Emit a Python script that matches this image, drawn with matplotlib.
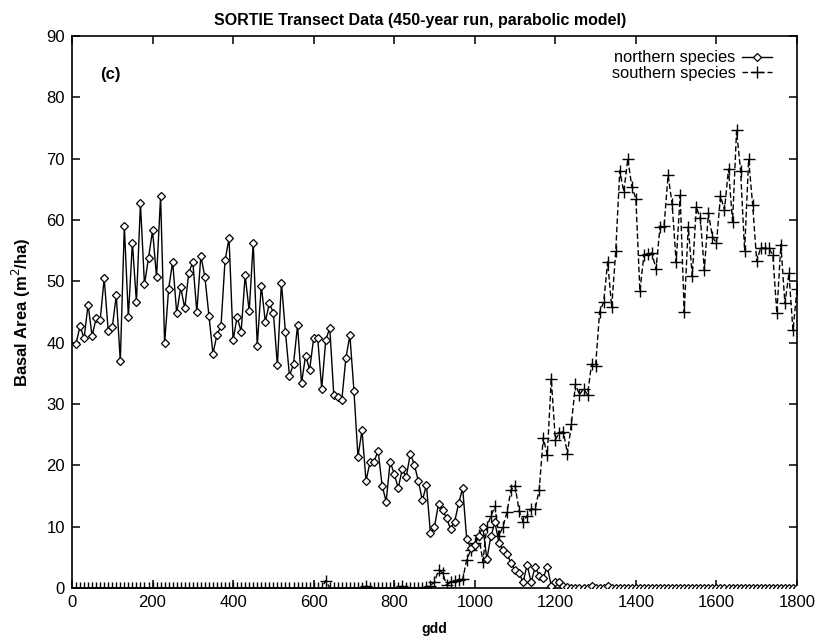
import matplotlib
matplotlib.use("Agg")
import matplotlib.pyplot as plt

plt.rcParams["font.family"] = ["Liberation Sans", "DejaVu Sans"]

# ---------------------------------------------------
# DATA (one value per 10 gdd)
# ---------------------------------------------------
gdd = list(range(10, 1801, 10))

northern = [
    39.8, 42.7, 40.7, 46.2, 41.1, 44.0, 43.7, 50.5, 41.9, 42.5,   # 10-100
    47.7, 37.0, 59.0, 44.2, 56.3, 46.6, 62.7, 49.5, 53.8, 58.3,   # 110-200
    50.7, 63.9, 39.9, 48.8, 53.2, 44.8, 49.0, 45.6, 51.4, 53.2,   # 210-300
    45.0, 54.2, 50.7, 44.4, 38.2, 41.3, 42.7, 53.4, 57.0, 40.4,   # 310-400
    44.2, 41.8, 51.0, 45.1, 56.3, 39.5, 49.3, 43.4, 46.4, 44.9,   # 410-500
    36.3, 49.8, 41.7, 34.6, 36.5, 42.8, 33.4, 37.9, 35.6, 40.7,   # 510-600
    40.8, 32.5, 40.4, 42.4, 31.5, 31.1, 30.7, 37.5, 41.2, 32.2,   # 610-700
    21.4, 25.7, 17.5, 20.5, 20.6, 22.4, 16.7, 14.1, 20.6, 18.6,   # 710-800
    16.3, 19.4, 18.1, 21.9, 20.1, 17.4, 14.3, 16.8, 8.9, 10.0,    # 810-900
    13.7, 12.7, 11.4, 9.6, 10.8, 13.8, 16.3, 8.0, 6.5, 7.0,       # 910-1000
    8.4, 10.0, 4.7, 8.4, 10.7, 7.4, 6.2, 5.6, 4.0, 2.9,           # 1010-1100
    2.5, 0.9, 3.8, 0.9, 3.5, 2.0, 1.6, 3.5, 0.3, 0.9,             # 1110-1200
    1.0, 0.4, 0.2, 0.0, 0.0, 0.0, 0.0, 0.0, 0.3, 0.0,             # 1210-1300
    0.0, 0.0, 0.3, 0.0, 0.0, 0.0, 0.0, 0.0, 0.0, 0.0,             # 1310-1400
    0.0, 0.0, 0.0, 0.0, 0.0, 0.0, 0.0, 0.0, 0.0, 0.0,             # 1410-1500
    0.0, 0.0, 0.0, 0.0, 0.0, 0.0, 0.0, 0.0, 0.0, 0.0,             # 1510-1600
    0.0, 0.0, 0.0, 0.0, 0.0, 0.0, 0.0, 0.0, 0.0, 0.0,             # 1610-1700
    0.0, 0.0, 0.0, 0.0, 0.0, 0.0, 0.0, 0.0, 0.0, 0.0,             # 1710-1800
]

southern = [
    0.0, 0.0, 0.0, 0.0, 0.0, 0.0, 0.0, 0.0, 0.0, 0.0,             # 10-100
    0.0, 0.0, 0.0, 0.0, 0.0, 0.0, 0.0, 0.0, 0.0, 0.0,             # 110-200
    0.0, 0.0, 0.0, 0.0, 0.0, 0.0, 0.0, 0.0, 0.0, 0.0,             # 210-300
    0.0, 0.0, 0.0, 0.0, 0.0, 0.0, 0.0, 0.0, 0.0, 0.0,             # 310-400
    0.0, 0.0, 0.0, 0.0, 0.0, 0.0, 0.0, 0.0, 0.0, 0.0,             # 410-500
    0.0, 0.0, 0.0, 0.0, 0.0, 0.0, 0.0, 0.0, 0.0, 0.0,             # 510-600
    0.0, 0.0, 1.2, 0.0, 0.0, 0.0, 0.0, 0.0, 0.0, 0.0,             # 610-700
    0.0, 0.0, 0.4, 0.0, 0.0, 0.0, 0.0, 0.0, 0.0, 0.0,             # 710-800
    0.0, 0.3, 0.0, 0.0, 0.0, 0.0, 0.0, 0.2, 0.4, 1.0,             # 810-900
    2.9, 2.5, 0.5, 0.9, 1.2, 1.3, 1.4, 4.6, 6.2, 7.3,             # 910-1000
    8.7, 4.3, 10.0, 11.7, 13.3, 8.5, 10.0, 12.4, 16.0, 16.7,      # 1010-1100
    12.6, 10.8, 11.8, 12.9, 12.9, 16.0, 24.5, 21.7, 34.1, 24.2,   # 1110-1200
    25.3, 25.5, 21.9, 26.8, 33.2, 31.5, 32.5, 31.5, 36.5, 36.2,   # 1210-1300
    45.0, 46.6, 53.2, 45.8, 54.9, 68.0, 64.6, 70.0, 65.4, 63.5,   # 1310-1400
    48.4, 54.3, 54.5, 54.6, 52.0, 58.9, 59.0, 67.3, 62.6, 53.2,   # 1410-1500
    64.0, 45.0, 58.9, 50.9, 62.1, 60.3, 51.9, 61.1, 57.3, 56.2,   # 1510-1600
    63.9, 61.7, 68.3, 59.7, 74.6, 68.0, 55.0, 69.9, 62.4, 53.3,   # 1610-1700
    55.5, 55.4, 55.4, 54.3, 44.8, 56.0, 46.4, 51.3, 42.0, 48.7,   # 1710-1800
]

x_ticks = list(range(0, 1801, 200))
y_ticks = list(range(0, 91, 10))

# ---------------------------------------------------
# PLOT
# ---------------------------------------------------
fig = plt.figure(figsize=(8.16, 6.41), dpi=100)
ax = fig.add_axes([0.0882, 0.0827, 0.8885, 0.8611])

ax.plot(gdd, southern, color="black", linestyle=(0, (4, 2)), linewidth=1.0,
        marker="+", markersize=8, markeredgewidth=1.0,
        label="southern species", zorder=2)
ax.plot(gdd, northern, color="black", linestyle="-", linewidth=1.0,
        marker="D", markersize=4.5, markerfacecolor="white",
        markeredgecolor="black", markeredgewidth=0.9,
        label="northern species", zorder=3)

ax.set_xlim(0, 1800)
ax.set_ylim(0, 90)
ax.set_xticks(x_ticks)
ax.set_yticks(y_ticks)
ax.tick_params(direction="in", length=6, width=1.1, top=True, right=True,
               labelsize=12, pad=5)
for s in ax.spines.values():
    s.set_linewidth(1.2)

ax.set_title("SORTIE Transect Data (450-year run, parabolic model)",
             fontsize=11.5, fontweight="bold", pad=8, x=0.48)
ax.set_xlabel("gdd", fontsize=10, fontweight="bold", labelpad=9)
ax.set_ylabel("Basal Area (m$^2$/ha)", fontsize=12, fontweight="bold",
              labelpad=10)

ax.text(95, 83.8, "(c)", fontsize=12, fontweight="bold",
        ha="center", va="center")

h, l = ax.get_legend_handles_labels()
ax.legend(h[::-1], l[::-1], loc="upper right", bbox_to_anchor=(0.974, 0.986),
          markerfirst=False, frameon=False, fontsize=11.8, handlelength=1.8,
          handletextpad=0.4, labelspacing=0.05, borderaxespad=0)

fig.savefig("out.png", dpi=100)
